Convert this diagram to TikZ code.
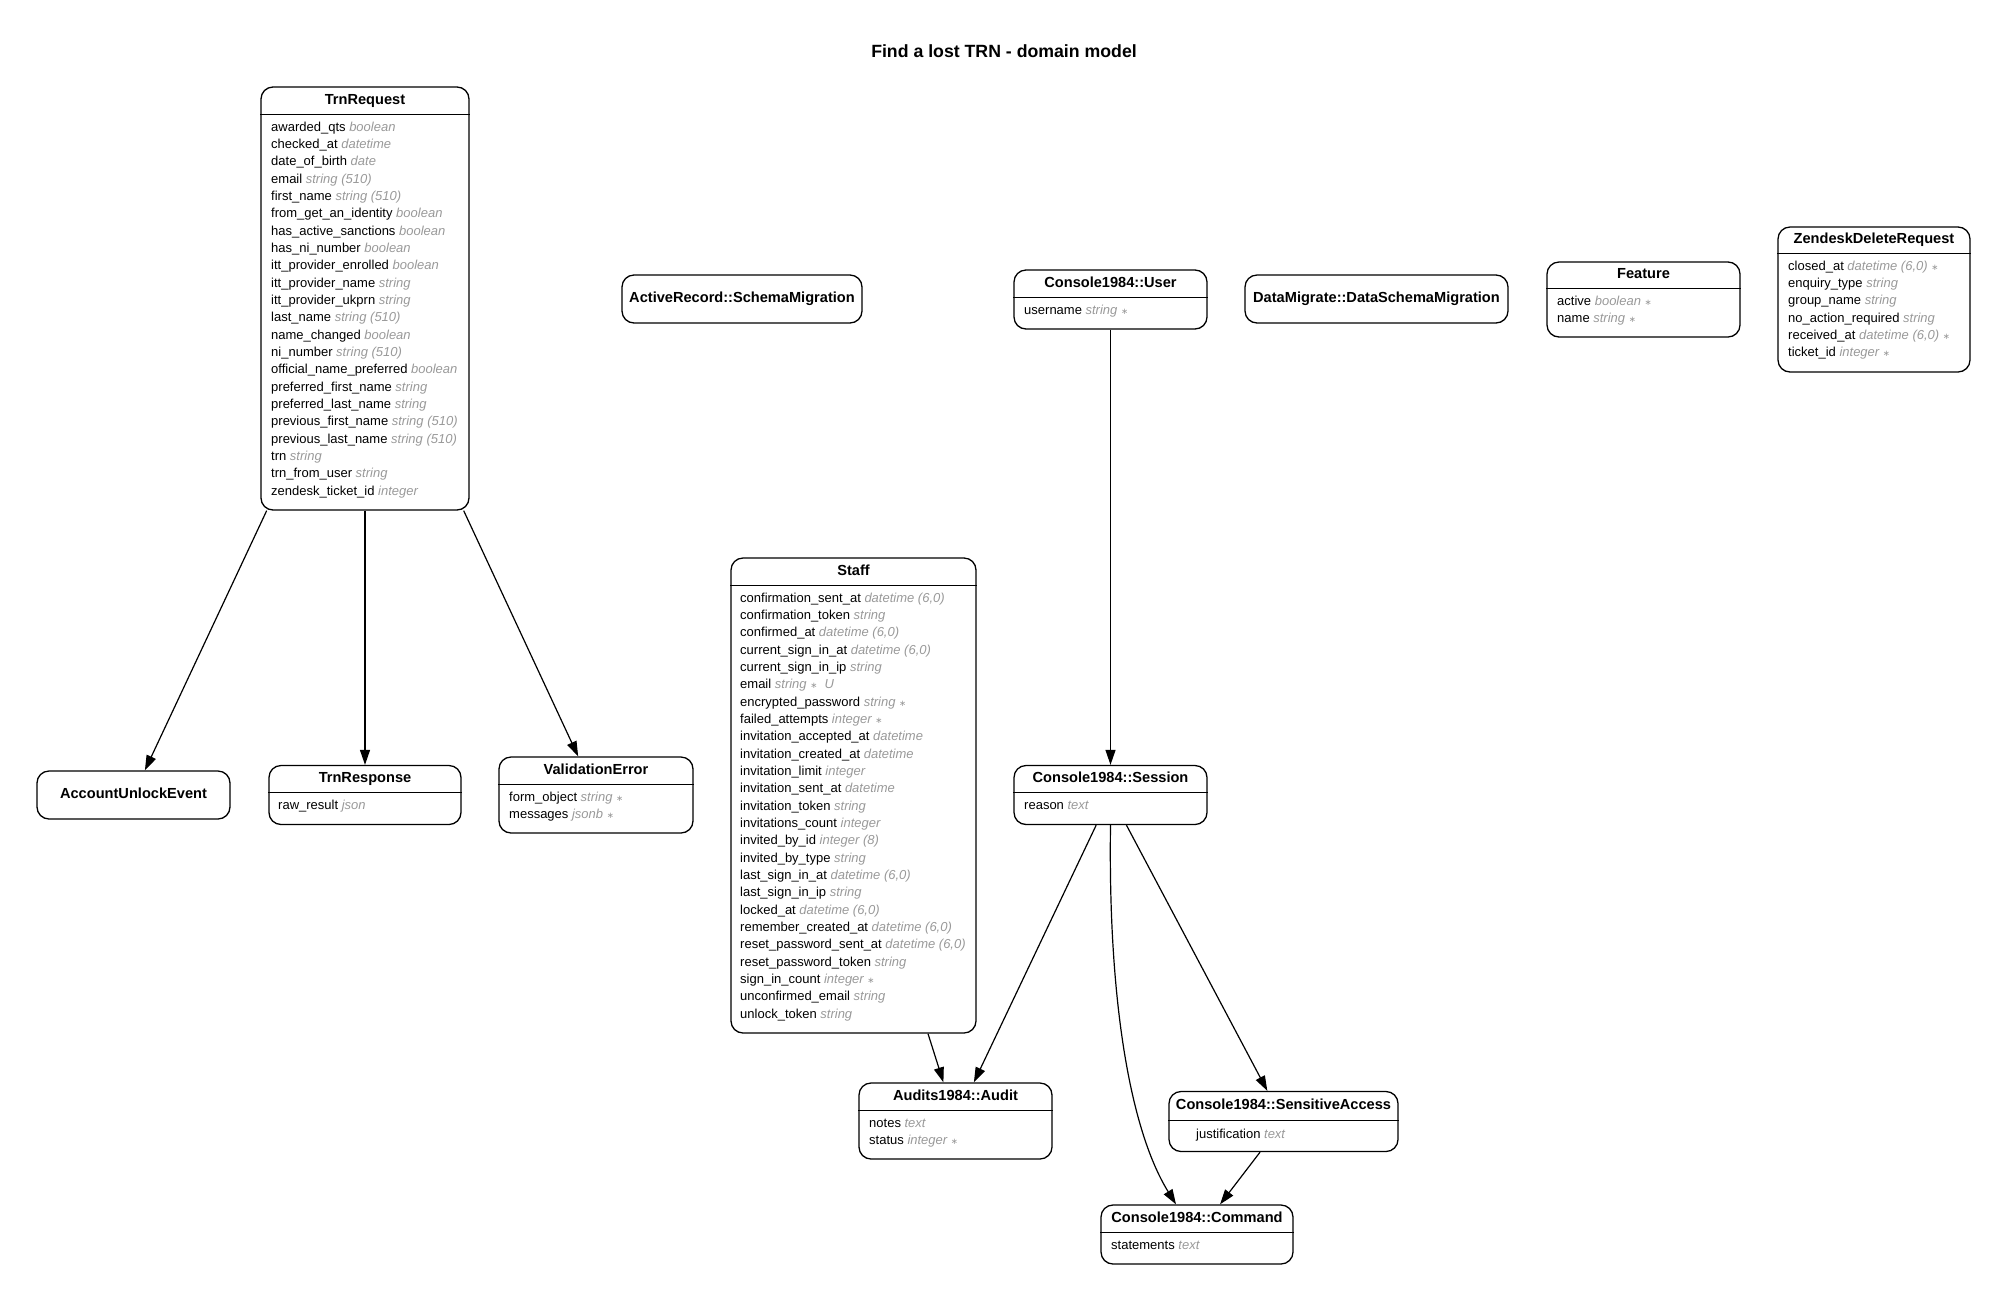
\documentclass[tikz,border=0pt]{standalone}
\usepackage{fontspec}
\setmainfont{Liberation Sans}
\newfontfamily\symfont{DejaVu Sans}
\usepackage{tikz}
\usepackage{xcolor}
\usetikzlibrary{arrows.meta}

\definecolor{typegray}{HTML}{999999}
\newcommand\ftype[1]{\textcolor{typegray}{\itshape #1}}
\newcommand\attrreq{{\upshape\symfont\fontsize{8.5}{8.5}\selectfont ∗}}

\begin{document}
\begin{tikzpicture}[x=1pt, y=-1pt,
  entity/.style={draw, rounded corners=12pt, line width=1.3pt, inner sep=0pt},
  ename/.style={font=\bfseries\fontsize{14.6}{17}\selectfont, inner sep=0pt, text height=10.5pt, text depth=3pt},
  attr/.style={anchor=west, font=\fontsize{13}{15}\selectfont, inner sep=0pt, text height=9.3pt, text depth=2.8pt},
  sepline/.style={line width=1pt},
  rel/.style={line width=1.2pt, -{Triangle[length=15pt,width=10pt]}}]
  \useasboundingbox (0,0) rectangle (2009,1302);
  % title
  \node[font=\bfseries\fontsize{17.7}{20}\selectfont] (title) at (1004,51) {Find a lost TRN - domain model};

  % TrnRequest
  \node[entity, minimum width=208pt, minimum height=423pt] (trnrequest) at (365,298.5) {};
  \draw[sepline] (trnrequest.west |- 0,114) -- (trnrequest.east |- 0,114);
  \node[ename] (trnrequest-h) at (365,100.5) {TrnRequest};
  \foreach \n/\t [count=\i from 0] in {awarded\_qts/boolean, checked\_at/datetime,
      date\_of\_birth/date, email/{string (510)}, first\_name/{string (510)},
      from\_get\_an\_identity/boolean, has\_active\_sanctions/boolean,
      has\_ni\_number/boolean, itt\_provider\_enrolled/boolean,
      itt\_provider\_name/string, itt\_provider\_ukprn/string,
      last\_name/{string (510)}, name\_changed/boolean, ni\_number/{string (510)},
      official\_name\_preferred/boolean, preferred\_first\_name/string,
      preferred\_last\_name/string, previous\_first\_name/{string (510)},
      previous\_last\_name/{string (510)}, trn/string, trn\_from\_user/string,
      zendesk\_ticket\_id/integer}
    \node[attr] (trnrequest-\i) at (271,128+\i*17.33) {\n\ \ftype{\t}};

  % tables with no attributes
  \node[entity, minimum width=240pt, minimum height=48pt] (schemamigration) at (742,299) {};
  \node[ename] (schemamigration-h) at (742,299) {ActiveRecord::SchemaMigration};
  \node[entity, minimum width=263pt, minimum height=48pt] (dataschemamigration) at (1376.5,299) {};
  \node[ename] (dataschemamigration-h) at (1376.5,299) {DataMigrate::DataSchemaMigration};
  \node[entity, minimum width=193pt, minimum height=48pt] (accountunlock) at (133.5,795) {};
  \node[ename] (accountunlock-h) at (133.5,795) {AccountUnlockEvent};

  % Console1984::User
  \node[entity, minimum width=193pt, minimum height=59pt] (user) at (1110.5,299.5) {};
  \draw[sepline] (user.west |- 0,297) -- (user.east |- 0,297);
  \node[ename] (user-h) at (1110.5,283.5) {Console1984::User};
  \node[attr] (user-0) at (1024,311) {username \ftype{string \attrreq}};

  % Feature
  \node[entity, minimum width=193pt, minimum height=75pt] (feature) at (1643.5,299.5) {};
  \draw[sepline] (feature.west |- 0,288) -- (feature.east |- 0,288);
  \node[ename] (feature-h) at (1643.5,275) {Feature};
  \node[attr] (feature-0) at (1557,302) {active \ftype{boolean \attrreq}};
  \node[attr] (feature-1) at (1557,319.33) {name \ftype{string \attrreq}};

  % ZendeskDeleteRequest
  \node[entity, minimum width=192pt, minimum height=145pt] (zendesk) at (1874,299.5) {};
  \draw[sepline] (zendesk.west |- 0,253) -- (zendesk.east |- 0,253);
  \node[ename] (zendesk-h) at (1874,240) {ZendeskDeleteRequest};
  \foreach \n/\t [count=\i from 0] in {closed\_at/{datetime (6,0) \attrreq},
      enquiry\_type/string, group\_name/string, no\_action\_required/string,
      received\_at/{datetime (6,0) \attrreq}, ticket\_id/{integer \attrreq}}
    \node[attr] (zendesk-\i) at (1788,267+\i*17.33) {\n\ \ftype{\t}};

  % Staff
  \node[entity, minimum width=245pt, minimum height=475pt] (staff) at (853.5,795.5) {};
  \draw[sepline] (staff.west |- 0,585) -- (staff.east |- 0,585);
  \node[ename] (staff-h) at (853.5,571.5) {Staff};
  \foreach \n/\t [count=\i from 0] in {confirmation\_sent\_at/{datetime (6,0)},
      confirmation\_token/string, confirmed\_at/{datetime (6,0)},
      current\_sign\_in\_at/{datetime (6,0)}, current\_sign\_in\_ip/string,
      email/{string \attrreq\ \ U}, encrypted\_password/{string \attrreq},
      failed\_attempts/{integer \attrreq}, invitation\_accepted\_at/datetime,
      invitation\_created\_at/datetime, invitation\_limit/integer,
      invitation\_sent\_at/datetime, invitation\_token/string,
      invitations\_count/integer, invited\_by\_id/{integer (8)},
      invited\_by\_type/string, last\_sign\_in\_at/{datetime (6,0)},
      last\_sign\_in\_ip/string, locked\_at/{datetime (6,0)},
      remember\_created\_at/{datetime (6,0)}, reset\_password\_sent\_at/{datetime (6,0)},
      reset\_password\_token/string, sign\_in\_count/{integer \attrreq},
      unconfirmed\_email/string, unlock\_token/string}
    \node[attr] (staff-\i) at (740,599+\i*17.33) {\n\ \ftype{\t}};

  % TrnResponse
  \node[entity, minimum width=192pt, minimum height=59pt] (trnresponse) at (365,795) {};
  \draw[sepline] (trnresponse.west |- 0,792.5) -- (trnresponse.east |- 0,792.5);
  \node[ename] (trnresponse-h) at (365,779) {TrnResponse};
  \node[attr] (trnresponse-0) at (278,806.5) {raw\_result \ftype{json}};

  % ValidationError
  \node[entity, minimum width=194pt, minimum height=76pt] (validationerror) at (596,795) {};
  \draw[sepline] (validationerror.west |- 0,784) -- (validationerror.east |- 0,784);
  \node[ename] (validationerror-h) at (596,770.5) {ValidationError};
  \node[attr] (validationerror-0) at (509,798) {form\_object \ftype{string \attrreq}};
  \node[attr] (validationerror-1) at (509,815.33) {messages \ftype{jsonb \attrreq}};

  % Console1984::Session
  \node[entity, minimum width=193pt, minimum height=59pt] (session) at (1110.5,795) {};
  \draw[sepline] (session.west |- 0,792.5) -- (session.east |- 0,792.5);
  \node[ename] (session-h) at (1110.5,779) {Console1984::Session};
  \node[attr] (session-0) at (1024,806.5) {reason \ftype{text}};

  % Audits1984::Audit
  \node[entity, minimum width=193pt, minimum height=76pt] (audit) at (955.5,1121) {};
  \draw[sepline] (audit.west |- 0,1110) -- (audit.east |- 0,1110);
  \node[ename] (audit-h) at (955.5,1096.5) {Audits1984::Audit};
  \node[attr] (audit-0) at (869,1124) {notes \ftype{text}};
  \node[attr] (audit-1) at (869,1141.33) {status \ftype{integer \attrreq}};

  % Console1984::SensitiveAccess
  \node[entity, minimum width=229pt, minimum height=60pt] (sensitiveaccess) at (1283.5,1121.5) {};
  \draw[sepline] (sensitiveaccess.west |- 0,1120) -- (sensitiveaccess.east |- 0,1120);
  \node[ename] (sensitiveaccess-h) at (1283.5,1105.5) {Console1984::SensitiveAccess};
  \node[attr] (sensitiveaccess-0) at (1196,1135) {justification \ftype{text}};

  % Console1984::Command
  \node[entity, minimum width=192pt, minimum height=59pt] (command) at (1197,1234.5) {};
  \draw[sepline] (command.west |- 0,1232) -- (command.east |- 0,1232);
  \node[ename] (command-h) at (1197,1218.5) {Console1984::Command};
  \node[attr] (command-0) at (1111,1246) {statements \ftype{text}};

  % relations
  \draw[rel] (trnrequest) -- (accountunlock);
  \draw[rel] (trnrequest) -- (trnresponse);
  \draw[rel] (trnrequest) -- (validationerror);
  \draw[rel] (user) -- (session);
  \draw[rel] (session) -- (audit);
  \draw[rel] (staff) -- (audit);
  \draw[rel] (session) -- (sensitiveaccess);
  \draw[rel] (sensitiveaccess) -- (command);
  \draw[rel] (session.south) .. controls (1108,1000) and (1130,1130) .. ([xshift=-21pt]command.north);
\end{tikzpicture}
\end{document}
